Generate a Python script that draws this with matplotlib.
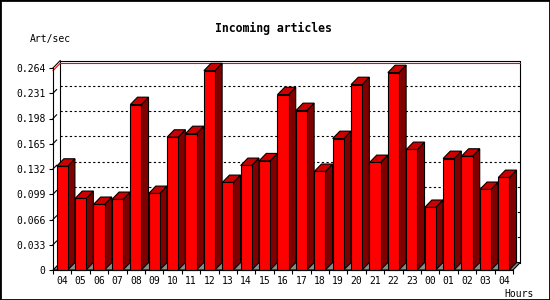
import matplotlib
matplotlib.use("Agg")
import matplotlib.pyplot as plt
from matplotlib.patches import Polygon, Rectangle

hours = ['04', '05', '06', '07', '08', '09', '10', '11', '12', '13', '14', '15',
         '16', '17', '18', '19', '20', '21', '22', '23', '00', '01', '02', '03', '04']
values = [0.1357, 0.0935, 0.0857, 0.0922, 0.2162, 0.1000, 0.1736, 0.1783, 0.2605,
          0.1144, 0.1366, 0.1427, 0.2292, 0.2084, 0.1288, 0.1718, 0.2423, 0.1405,
          0.2580, 0.1575, 0.0818, 0.1457, 0.1488, 0.1053, 0.1209]
yticks = [0, 0.033, 0.066, 0.099, 0.132, 0.165, 0.198, 0.231, 0.264]
ytick_labels = ['0', '0.033', '0.066', '0.099', '0.132', '0.165', '0.198', '0.231', '0.264']
title = 'Incoming articles'
ylabel = 'Art/sec'
xlabel = 'Hours'

W, H = 550, 300
FONT = 'DejaVu Sans Mono'
fig = plt.figure(figsize=(W / 100, H / 100), dpi=100)
fig.patch.set_facecolor('white')

ax_l, ax_r, ax_b, ax_t = 53, 513, 270, 68
ax = fig.add_axes([ax_l / W, (H - ax_b) / H, (ax_r - ax_l) / W, (ax_b - ax_t) / H])
n = len(values)
ymax = yticks[-1]
ax.set_xlim(0, n)
ax.set_ylim(0, ymax)
ax.set_facecolor('none')

sx = n / (ax_r - ax_l)
sy = ymax / (ax_b - ax_t)
DX = 7.2 * sx
DY = 7.4 * sy

lw = 0.8
# floor
ax.add_patch(Polygon([(0, 0), (n, 0), (n + DX, DY), (DX, DY)], closed=True,
                     facecolor='#8c8c8c', edgecolor='black', lw=lw, zorder=1, clip_on=False))
# back plane frame
ax.plot([DX, DX, n + DX, n + DX], [DY, ymax + DY, ymax + DY, DY], color='black', lw=lw,
        zorder=1.5, clip_on=False)
ax.plot([0, DX], [ymax, ymax + DY], color='black', lw=lw, zorder=1.5, clip_on=False)
# dashed grid on back plane
for v in yticks[1:-1]:
    ax.plot([DX, n + DX], [v + DY, v + DY], color='black', lw=lw, ls=(0, (2, 2.2)),
            zorder=1.6, clip_on=False)
    ax.plot([0, 0.5 * DX], [v, v + 0.5 * DY], color='black', lw=lw, zorder=1.6, clip_on=False)
# max line (red)
vmax = max(values)
ax.plot([DX, n + DX], [vmax + DY, vmax + DY], color='red', lw=lw, zorder=1.7, clip_on=False)
ax.plot([0, DX], [vmax, vmax + DY], color='red', lw=lw, zorder=1.7, clip_on=False)

# 3D bars
off, wid = 0.2, 0.6
for i, v in enumerate(values):
    x0 = i + off
    x1 = x0 + wid
    z = 3 + i * 0.01
    ax.add_patch(Polygon([(x1, 0), (x1 + DX, DY), (x1 + DX, v + DY), (x1, v)], closed=True,
                         facecolor='#800000', edgecolor='black', lw=lw, zorder=z, clip_on=False))
    ax.add_patch(Polygon([(x0, v), (x1, v), (x1 + DX, v + DY), (x0 + DX, v + DY)], closed=True,
                         facecolor='#cc0000', edgecolor='black', lw=lw, zorder=z, clip_on=False))
ax.bar([i + off for i in range(n)], values, width=wid, align='edge', color='#ff0000',
       edgecolor='black', lw=lw, zorder=3.5, clip_on=False)

for s in ['top', 'right']:
    ax.spines[s].set_visible(False)
for s in ['left', 'bottom']:
    ax.spines[s].set_linewidth(lw)
    ax.spines[s].set_zorder(5)

ax.set_yticks(yticks)
ax.set_yticklabels(ytick_labels, fontfamily=FONT, fontsize=7)
ax.tick_params(axis='y', direction='out', length=3, width=lw, pad=2.5)
ax.set_xticks(range(n + 1))
ax.set_xticklabels([])
ax.tick_params(axis='x', which='major', direction='out', length=3, width=lw)
ax.set_xticks([i + 0.5 for i in range(n)], minor=True)
ax.set_xticklabels(hours, minor=True, fontfamily=FONT, fontsize=7)
ax.tick_params(axis='x', which='minor', length=0, pad=4)

fig.text(273.7 / W, 1 - 28 / H, title, ha='center', va='center', fontfamily=FONT,
         fontsize=8.3, fontweight='bold')
fig.text(29.8 / W, 1 - 39.3 / H, ylabel, ha='left', va='center', fontfamily=FONT, fontsize=7)
fig.text(534 / W, 1 - 293.6 / H, xlabel, ha='right', va='center', fontfamily=FONT, fontsize=7)

fig.patches.append(Rectangle((0, 0), 1, 1, transform=fig.transFigure, fill=False,
                             edgecolor='black', lw=2))

fig.savefig('out.png', dpi=100)
